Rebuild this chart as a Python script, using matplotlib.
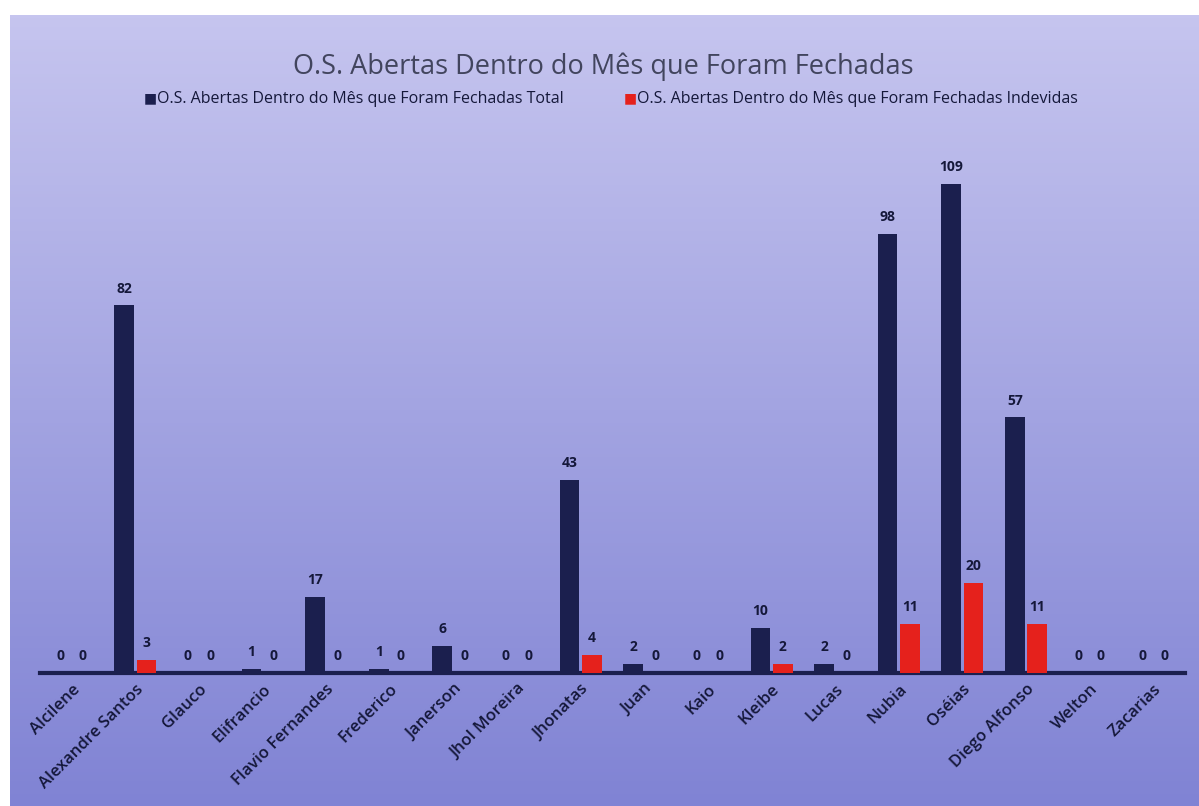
import numpy as np
import matplotlib
matplotlib.use("Agg")
import matplotlib.pyplot as plt

plt.rcParams['font.family'] = ['Open Sans', 'DejaVu Sans']

# dados
nomes = ["Alcilene", "Alexandre Santos", "Glauco", "Elifrancio", "Flavio Fernandes",
         "Frederico", "Janerson", "Jhol Moreira", "Jhonatas", "Juan", "Kaio", "Kleibe",
         "Lucas", "Nubia", "Oséias", "Diego Alfonso", "Welton", "Zacarias"]
total = [0, 82, 0, 1, 17, 1, 6, 0, 43, 2, 0, 10, 2, 98, 109, 57, 0, 0]
indevidas = [0, 3, 0, 0, 0, 0, 0, 0, 4, 0, 0, 2, 0, 11, 20, 11, 0, 0]

titulo = "O.S. Abertas Dentro do Mês que Foram Fechadas"
serie1 = "O.S. Abertas Dentro do Mês que Foram Fechadas Total"
serie2 = "O.S. Abertas Dentro do Mês que Foram Fechadas Indevidas"

cor_total = "#1b1f4e"
cor_indev = "#e5211c"
cor_texto = "#15183a"

fig = plt.figure(figsize=(11.99, 8.06), dpi=100)
fig.patch.set_facecolor("white")

# fundo com gradiente lilas
bg = fig.add_axes([10/1199, 0, 1 - 10/1199, 1 - 15/806])
grad = np.linspace(0, 1, 256).reshape(-1, 1)
top_c = np.array([0xc6, 0xc5, 0xef]) / 255
bot_c = np.array([0x80, 0x83, 0xd4]) / 255
img = top_c * (1 - grad[..., None]) + bot_c * grad[..., None]
img = np.repeat(img, 2, axis=1)
bg.imshow(img, aspect="auto", extent=[0, 1, 0, 1])
bg.set_axis_off()

ax = fig.add_axes([40/1199, 1 - 673/806, 1145/1199, (673 - 135)/806])
ax.patch.set_alpha(0)

x = np.arange(len(nomes))
w = 0.31
ax.bar(x - w/2 - 0.02, total, w, color=cor_total, zorder=3)
ax.bar(x + w/2 + 0.02, indevidas, w, color=cor_indev, zorder=3)

for i in range(len(nomes)):
    ax.text(x[i] - w/2 - 0.02, total[i] + 2.2, str(total[i]), ha="center", va="bottom",
            fontsize=10, fontweight="bold", color=cor_texto)
    ax.text(x[i] + w/2 + 0.02, indevidas[i] + 2.2, str(indevidas[i]), ha="center", va="bottom",
            fontsize=10, fontweight="bold", color=cor_texto)

ax.set_xlim(-0.5, len(nomes) - 0.5)
ax.set_ylim(0, 120)
ax.set_yticks([])
for s in ["top", "right", "left"]:
    ax.spines[s].set_visible(False)
ax.spines["bottom"].set_color(cor_total)
ax.spines["bottom"].set_linewidth(3)
ax.tick_params(axis="x", length=0, pad=6)
ax.set_xticks(x)
ax.set_xticklabels(nomes, rotation=45, ha="right", rotation_mode="anchor",
                   fontsize=12, color=cor_texto, fontweight="semibold")

fig.text(603/1199, 1 - 67/806, titulo, ha="center", va="center", fontsize=19.5, color="#42455e")

# legenda
fig.text(144/1199, 1 - 99/806, "■", ha="left", va="center", fontsize=10, color=cor_total)
fig.text(157/1199, 1 - 99/806, serie1, ha="left", va="center", fontsize=11.5, color=cor_texto)
fig.text(624/1199, 1 - 99/806, "■", ha="left", va="center", fontsize=10, color=cor_indev)
fig.text(637/1199, 1 - 99/806, serie2, ha="left", va="center", fontsize=11.5, color=cor_texto)

fig.savefig("out.png", dpi=100)
